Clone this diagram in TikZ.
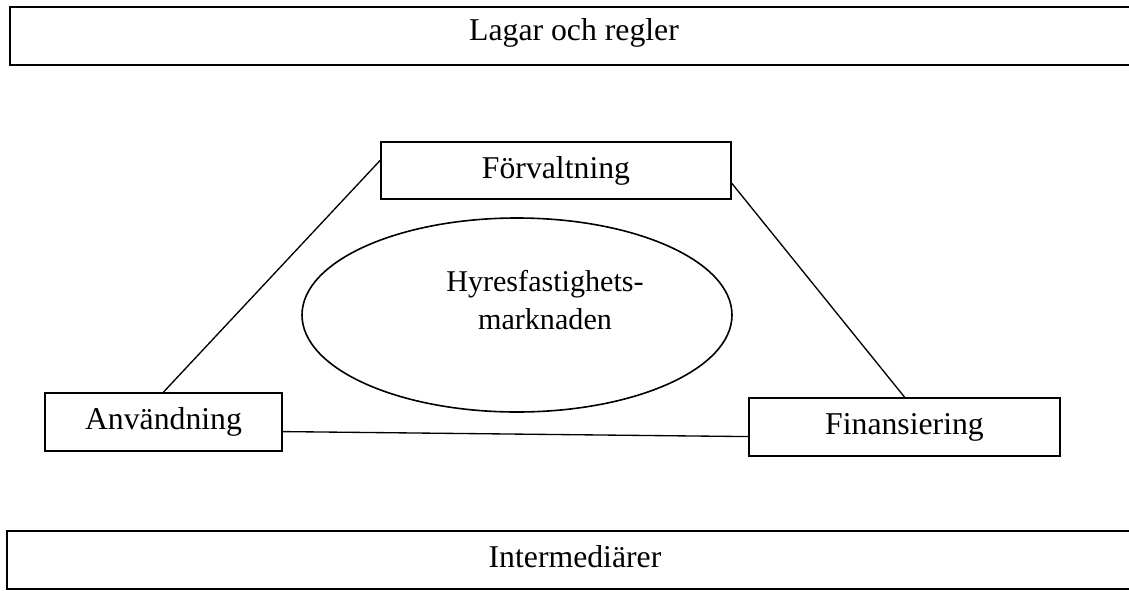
\documentclass[tikz,border=0pt]{standalone}
\usepackage{fontspec}
\setmainfont{Liberation Serif}
\usetikzlibrary{calc,shapes.geometric}
\begin{document}
\begin{tikzpicture}[x=0.75pt,y=-0.75pt,
  box/.style={draw,line width=1.4pt,rectangle,inner sep=0pt,font=\fontsize{23.8}{28}\selectfont},
  band/.style={box},
  lbl/.style={font=\fontsize{23.8}{28}\selectfont},
  conn/.style={line width=1pt}]
\useasboundingbox (0,0) rectangle (1129,590);
\clip (0,0) rectangle (1129,590);
\fill[white] (0,0) rectangle (1129,590);
\node[band,minimum width=847pt,minimum height=43.5pt,anchor=north west] (lag) at (9,6) {};
\node[lbl] (lagt) at (574,33) {Lagar och regler};
\node[band,minimum width=847pt,minimum height=43.5pt,anchor=north west] (int) at (6,530) {};
\node[lbl] (intt) at (575,557) {Intermediärer};
\node[box,minimum width=262.5pt,minimum height=42.75pt] (forv) at (556,170.5) {Förvaltning};
\node[box,minimum width=177.75pt,minimum height=43.5pt] (anv) at (163.5,422) {Användning};
\node[box,minimum width=233.25pt,minimum height=43.5pt] (fin) at (904.5,427) {Finansiering};
\node[draw,ellipse,line width=1.2pt,minimum width=322.5pt,minimum height=145.5pt,inner sep=0pt] (hyr) at (517,315) {};
\node[align=center,font=\fontsize{22.6}{29}\selectfont] (hyrt) at (545,300) {Hyresfastighets-\\marknaden};
\draw[conn] ($(forv.north west)!0.33!(forv.south west)$) -- (anv.north);
\draw[conn] ($(forv.north east)!0.72!(forv.south east)$) -- (fin.north);
\draw[conn] ($(anv.north east)!0.66!(anv.south east)$) -- ($(fin.north west)!0.66!(fin.south west)$);
\end{tikzpicture}
\end{document}
